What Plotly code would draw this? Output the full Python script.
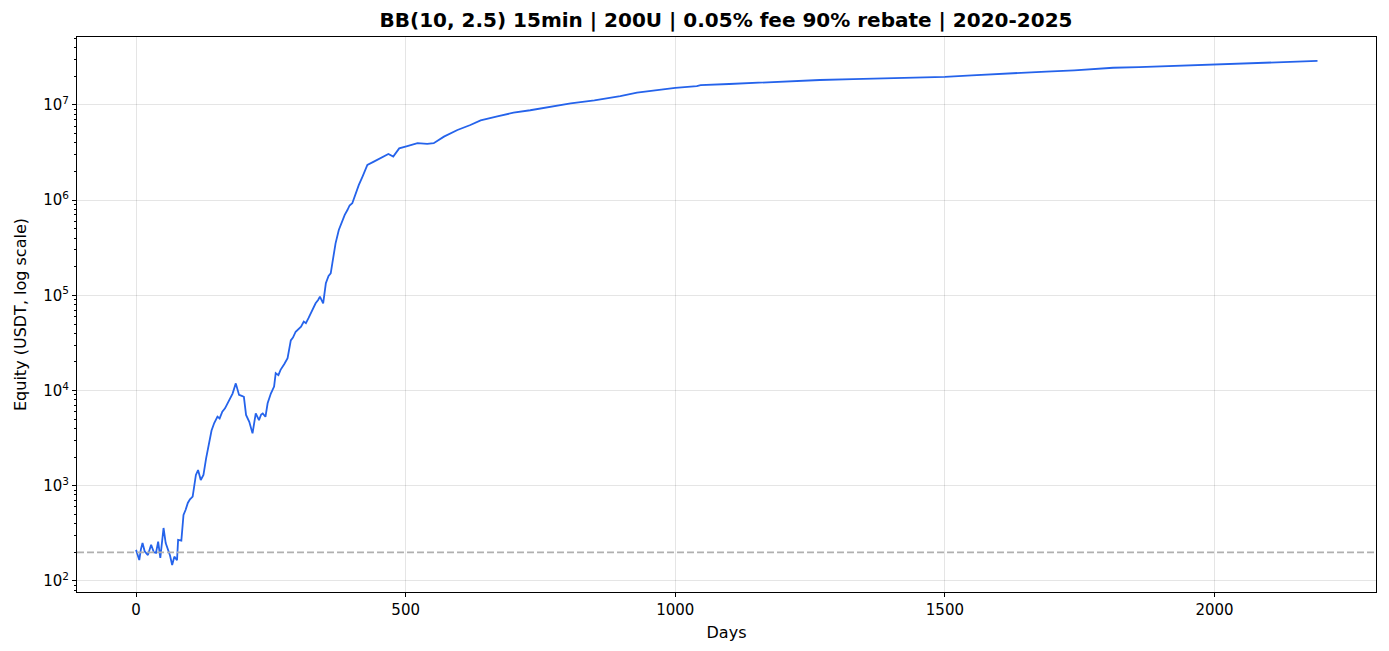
import plotly.graph_objects as go

days = [0, 3, 6, 9, 12, 16, 22, 28, 33, 37, 41, 45, 48, 51, 55, 59, 63, 67, 71, 76, 78, 84, 88, 92, 96, 100,
        105, 111, 115, 120, 125, 130, 136, 140, 145, 151, 155, 160, 165, 170, 175, 179, 185, 188, 191, 196,
        200, 204, 210, 216, 219, 222, 228, 232, 235, 240, 244, 250, 256, 259, 264, 268, 275, 281, 287, 291,
        296, 301, 306, 311, 315, 320, 324, 329, 333, 338, 341, 347, 352, 357, 361, 364, 370, 376, 383, 387,
        392, 396, 401, 407, 413, 420, 429, 441, 450, 457, 468, 477, 483, 488, 503, 522, 540, 552, 571, 596,
        620, 639, 670, 700, 731, 760, 806, 850, 898, 929, 960, 1000, 1040, 1047, 1100, 1145, 1200, 1268,
        1330, 1392, 1450, 1500, 1550, 1596, 1650, 1688, 1740, 1781, 1812, 1860, 1904, 1950, 2000, 2050,
        2089, 2140, 2191]

equity = [212, 190, 166, 215, 250, 205, 187, 240, 200, 197, 259, 175, 260, 360, 250, 212, 185, 147, 180, 165,
          270, 265, 493, 560, 660, 720, 770, 1300, 1460, 1150, 1300, 1950, 3030, 3800, 4560, 5330, 5100,
          6000, 6500, 7350, 8200, 9300, 11900, 10000, 9000, 8800, 8600, 5550, 4700, 3550, 4800, 5750, 4900,
          5600, 5750, 5300, 7350, 9300, 11000, 15200, 14500, 16500, 19000, 21900, 33700, 36000, 41500,
          44000, 47000, 53000, 51000, 58000, 65000, 72000, 82600, 90000, 97000, 82600, 134000, 160000,
          170000, 217000, 352000, 486000, 620000, 700000, 788000, 880000, 927000, 1.18e6, 1.44e6, 1.77e6,
          2.34e6, 2.54e6, 2.7e6, 2.87e6, 3.06e6, 2.87e6, 3.2e6, 3.5e6, 3.7e6, 3.97e6, 3.9e6, 3.97e6, 4.65e6,
          5.46e6, 6.16e6, 6.9e6, 7.6e6, 8.3e6, 8.8e6, 9.4e6, 1.04e7, 1.12e7, 1.24e7, 1.35e7, 1.42e7, 1.51e7,
          1.58e7, 1.62e7, 1.66e7, 1.71e7, 1.77e7, 1.83e7, 1.87e7, 1.91e7, 1.95e7, 1.97e7, 2.05e7, 2.12e7,
          2.18e7, 2.24e7, 2.31e7, 2.39e7, 2.46e7, 2.5e7, 2.55e7, 2.61e7, 2.67e7, 2.7e7, 2.74e7, 2.8e7, 2.9e7]

initial_capital = 200
x_ticks = [0, 500, 1000, 1500, 2000]
y_tick_vals = [1e2, 1e3, 1e4, 1e5, 1e6, 1e7]
y_tick_text = ["10<sup>2</sup>", "10<sup>3</sup>", "10<sup>4</sup>", "10<sup>5</sup>", "10<sup>6</sup>", "10<sup>7</sup>"]
title = "BB(10, 2.5) 15min | 200U | 0.05% fee 90% rebate | 2020-2025"

FONT = "DejaVu Sans"
W, H = 1381, 643  # page body has an 8px margin

fig = go.Figure()
fig.add_trace(go.Scatter(x=days, y=equity, mode="lines",
                         line=dict(color="#2563eb", width=1.8), showlegend=False))

fig.add_shape(type="line", xref="paper", yref="y", x0=0, x1=1,
              y0=initial_capital, y1=initial_capital,
              line=dict(color="#b0b0b0", width=1.8, dash="7px,3px"))

fig.update_layout(
    width=W, height=H,
    margin=dict(l=67, r=12, t=29, b=59),
    paper_bgcolor="white", plot_bgcolor="white",
    font=dict(family=FONT, size=15, color="black"),
    title=dict(text="<b>" + title + "</b>", x=718 / W, xanchor="center",
               y=1 - 12 / H, yanchor="middle", font=dict(family=FONT, size=20, color="black")),
)

fig.update_xaxes(
    range=[-109.5, 2299.5], tickvals=x_ticks, ticks="outside", ticklen=4, tickcolor="black",
    showline=True, linecolor="black", linewidth=1, mirror=True,
    showgrid=True, gridcolor="rgba(0,0,0,0.1)", gridwidth=1, zeroline=False,
    title=dict(text="Days", font=dict(family=FONT, size=16), standoff=8),
    tickfont=dict(family=FONT, size=15),
)

fig.update_yaxes(
    type="log", range=[1.884, 7.714], tickvals=y_tick_vals, ticktext=y_tick_text,
    ticks="outside", ticklen=4, tickcolor="black",
    showline=True, linecolor="black", linewidth=1, mirror=True,
    showgrid=True, gridcolor="rgba(0,0,0,0.1)", gridwidth=1, zeroline=False,
    minor=dict(ticks="outside", ticklen=2, tickcolor="black", dtick="D1", showgrid=False),
    title=dict(text="Equity (USDT, log scale)", font=dict(family=FONT, size=16), standoff=12),
    tickfont=dict(family=FONT, size=15),
)

fig.write_html("out.html")
